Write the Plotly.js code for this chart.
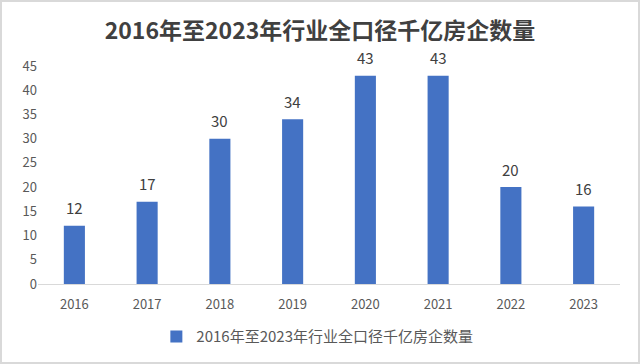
<!DOCTYPE html>
<html><head><meta charset="utf-8">
<script src="https://cdn.plot.ly/plotly-3.0.1.min.js"></script>
<style>html,body{margin:0;padding:0;background:#fff;}#c{width:640px;height:364px;box-sizing:border-box;border:2px solid #d9d9d9;}</style>
</head><body><div id="c"></div>
<script>
const years = ['2016','2017','2018','2019','2020','2021','2022','2023'];
const counts = [12,17,30,34,43,43,20,16];
const seriesName = '2016年至2023年行业全口径千亿房企数量';
const titleText = '2016年至2023年行业全口径千亿房企数量';
const yTicks = [0,5,10,15,20,25,30,35,40,45];

const font = '"Noto Sans CJK SC", "Noto Sans", sans-serif';
const labels = years.map((y,i)=>({x:i, y:counts[i], xref:'x', yref:'y', text:String(counts[i]), showarrow:false, yanchor:'middle', yshift:18, font:{size:15, color:'#404040', family:font}}));
Plotly.newPlot('c', [{
  type:'bar', x:years, y:counts, name:seriesName,
  marker:{color:'#4472C4'},
  showlegend:true
}], {
  width:636, height:360,
  margin:{l:36, r:18, t:64, b:78},
  paper_bgcolor:'#fff', plot_bgcolor:'#fff',
  title:{text:'<b>'+titleText+'</b>', x:0.5, xanchor:'center', y:0.92, yanchor:'middle', font:{size:23, color:'#404040', family:font}},
  bargap:0.71,
  annotations:labels,
  xaxis:{type:'category', range:[-0.5, years.length-0.5], showline:true, linecolor:'#d9d9d9', linewidth:1, ticks:'', ticklabelstandoff:8, tickfont:{size:13, color:'#595959', family:font}, showgrid:false},
  yaxis:{range:[0,45], tickvals:yTicks, showgrid:false, zeroline:false, showline:false, ticks:'', tickfont:{size:13, color:'#595959', family:font}},
  legend:{orientation:'h', x:0.48, xanchor:'center', yref:'container', y:0.07, yanchor:'middle', font:{size:15, color:'#595959', family:font}},
}, {displayModeBar:false, staticPlot:true});
</script></body></html>
